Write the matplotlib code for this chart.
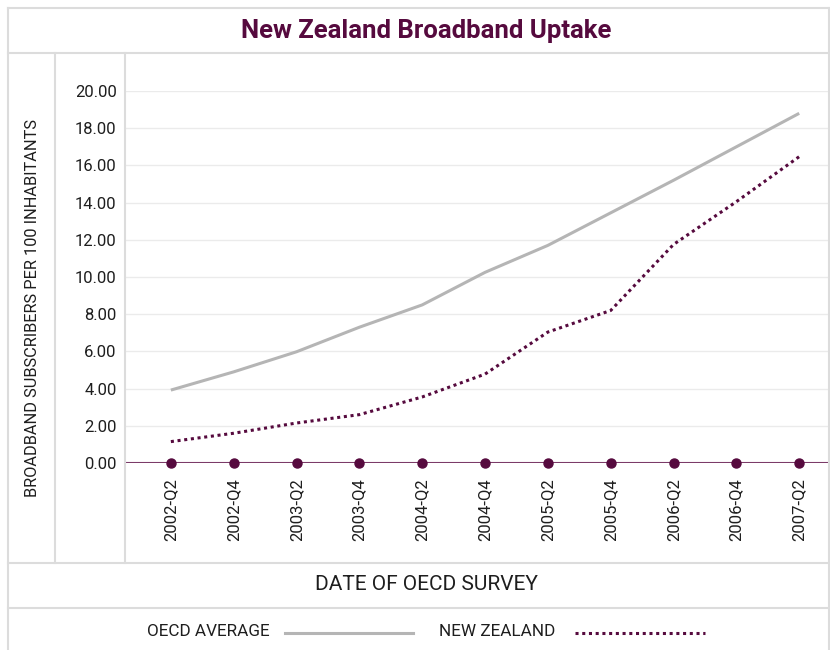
import matplotlib
matplotlib.use("Agg")
import matplotlib.pyplot as plt
from matplotlib.lines import Line2D

categories = ["2002-Q2", "2002-Q4", "2003-Q2", "2003-Q4", "2004-Q2", "2004-Q4",
              "2005-Q2", "2005-Q4", "2006-Q2", "2006-Q4", "2007-Q2"]
oecd_average = [3.92, 4.9, 5.98, 7.3, 8.5, 10.25, 11.7, 13.45, 15.2, 17.0, 18.8]
new_zealand = [1.15, 1.6, 2.15, 2.6, 3.55, 4.78, 7.04, 8.2, 11.75, 14.05, 16.47]
baseline = [0.0] * len(categories)
y_ticks = [0, 2, 4, 6, 8, 10, 12, 14, 16, 18, 20]

plt.rcParams['font.family'] = ['Roboto', 'DejaVu Sans']

W, H = 830, 650
fig = plt.figure(figsize=(W / 100, H / 100), dpi=100)

PURPLE = "#560a3e"
GREY = "#b5b5b5"
FRAME = "#dcdcdc"
TEXT = "#1e1e1e"

def px(x, y):
    return x / W, 1 - y / H

ax = fig.add_axes([125 / W, (H - 463) / H, (W - 125) / W, (463 - 91) / H])
x = list(range(len(categories)))
ax.plot(x, oecd_average, color=GREY, lw=2.2, solid_capstyle='butt')
ax.plot(x, new_zealand, color=PURPLE, lw=2.2, linestyle=(0, (1, 1.2)))
ax.axhline(0, color="#7b3b68", lw=1.5, zorder=3)
ax.plot(x, baseline, linestyle='none', marker='o', ms=6.5, color=PURPLE,
        clip_on=False, zorder=4)

ax.set_xlim(-0.73, 10.49)
ax.set_ylim(0, 20)
ax.set_yticks(y_ticks)
ax.set_yticklabels([f"{v:.2f}" for v in y_ticks], fontsize=12, color=TEXT)
ax.set_xticks(x)
ax.set_xticklabels(categories, rotation=90, fontsize=12, color=TEXT)
ax.tick_params(axis='both', length=0)
ax.tick_params(axis='x', pad=11)
ax.tick_params(axis='y', pad=6)
ax.grid(axis='y', color="#ebebeb", lw=1)
ax.set_axisbelow(True)
for s in ax.spines.values():
    s.set_visible(False)

# frame lines
def hline(y, x0, x1):
    fig.add_artist(Line2D([x0 / W, x1 / W], [1 - y / H, 1 - y / H], color=FRAME, lw=1.5))

def vline(x, y0, y1):
    fig.add_artist(Line2D([x / W, x / W], [1 - y0 / H, 1 - y1 / H], color=FRAME, lw=1.5))

hline(8, 8, 830)
hline(53, 8, 830)
hline(563, 8, 830)
hline(608, 8, 830)
vline(8, 8, 650)
vline(829, 8, 650)
vline(55, 53, 563)
vline(125, 53, 563)

fig.text(*px(426, 31), "New Zealand Broadband Uptake", ha='center', va='center',
         fontsize=18.5, fontweight='bold', color=PURPLE)
fig.text(*px(33, 308), "BROADBAND SUBSCRIBERS PER 100 INHABITANTS", rotation=90,
         ha='center', va='center', fontsize=11.8, color=TEXT)
fig.text(*px(426, 585), "DATE OF OECD SURVEY", ha='center', va='center',
         fontsize=15, color=TEXT)

# legend
fig.text(*px(270, 632), "OECD AVERAGE", ha='right', va='center', fontsize=12.3, color=TEXT)
fig.add_artist(Line2D([285 / W, 413 / W], [1 - 633 / H] * 2, color=GREY, lw=2.2))
fig.text(*px(555, 632), "NEW ZEALAND", ha='right', va='center', fontsize=12.3, color=TEXT)
fig.add_artist(Line2D([575 / W, 705 / W], [1 - 633 / H] * 2, color=PURPLE, lw=2.2,
                      linestyle=(0, (1, 1.2))))

fig.savefig("out.png", dpi=100, facecolor="white")
